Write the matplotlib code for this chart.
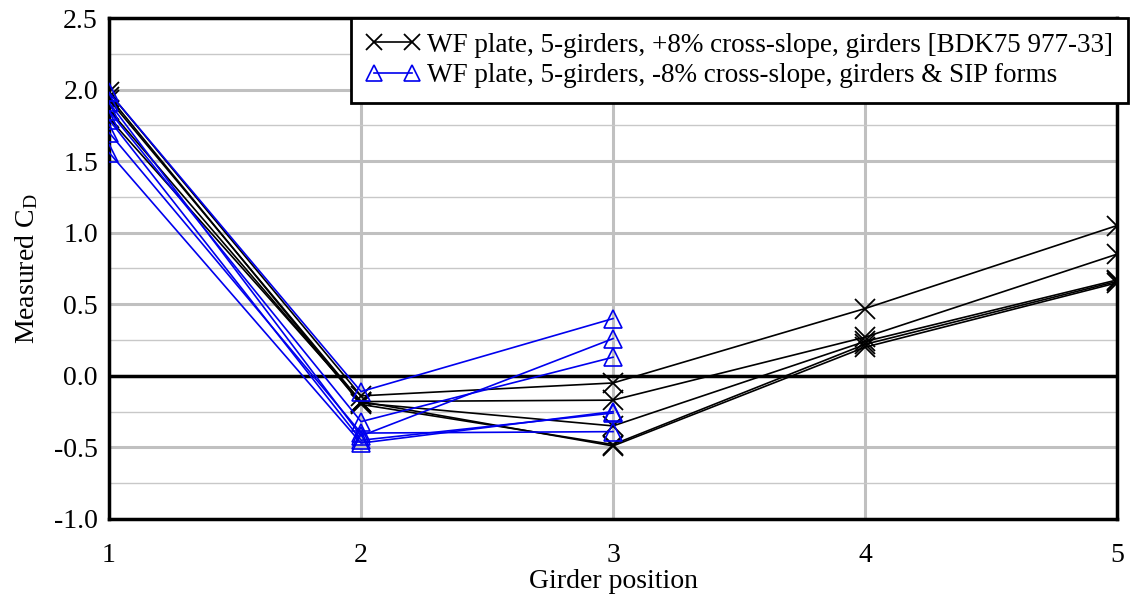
import matplotlib
matplotlib.use("Agg")
import matplotlib.pyplot as plt
from matplotlib.ticker import MultipleLocator, FormatStrFormatter

plt.rcParams.update({
    'font.family': 'Liberation Serif',
    'mathtext.fontset': 'custom',
    'mathtext.rm': 'Liberation Serif',
    'mathtext.it': 'Liberation Serif:italic',
    'axes.unicode_minus': False,
})

girders = [1, 2, 3, 4, 5]

# +8% cross-slope, girders [BDK75 977-33]
black_runs = [
    [1.98, -0.14, -0.05, 0.47, 1.05],
    [1.93, -0.18, -0.17, 0.27, 0.85],
    [1.86, -0.19, -0.35, 0.24, 0.67],
    [1.80, -0.18, -0.49, 0.20, 0.65],
    [1.95, -0.20, -0.48, 0.22, 0.66],
]

# -8% cross-slope, girders & SIP forms (positions 1-3 only)
blue_girders = [1, 2, 3]
blue_runs = [
    [1.98, -0.11, 0.40],
    [1.91, -0.42, 0.26],
    [1.85, -0.32, 0.13],
    [1.79, -0.45, -0.26],
    [1.70, -0.40, -0.39],
    [1.56, -0.47, -0.25],
]

labels = ['WF plate, 5-girders, +8% cross-slope, girders [BDK75 977-33]',
          'WF plate, 5-girders, -8% cross-slope, girders & SIP forms']

fig = plt.figure(figsize=(11.3, 6.02), dpi=100)
ax = fig.add_axes([0.0965, 0.138, 0.892, 0.832])

for i, run in enumerate(black_runs):
    ax.plot(girders, run, color='black', lw=1.2, marker='x', markersize=14,
            markeredgewidth=1.3, label=labels[0] if i == 0 else None, zorder=4)
for i, run in enumerate(blue_runs):
    ax.plot(blue_girders, run, color='#0000ee', lw=1.2, marker='^', markersize=13,
            markerfacecolor='none', markeredgewidth=1.2,
            label=labels[1] if i == 0 else None, zorder=5)

ax.axhline(0, color='black', lw=2.5, zorder=3)

ax.set_xlim(1, 5)
ax.set_ylim(-1.0, 2.5)
ax.xaxis.set_major_locator(MultipleLocator(1))
ax.yaxis.set_major_locator(MultipleLocator(0.5))
ax.yaxis.set_minor_locator(MultipleLocator(0.25))
ax.yaxis.set_major_formatter(FormatStrFormatter('%.1f'))
ax.grid(which='major', color='#c0c0c0', lw=2.2, zorder=0)
ax.grid(which='minor', axis='y', color='#c8c8c8', lw=1.0, zorder=0)
ax.set_axisbelow(True)
ax.tick_params(which='both', length=0, labelsize=20)
ax.tick_params(axis='y', pad=8)
ax.tick_params(axis='x', pad=17)

for s in ax.spines.values():
    s.set_linewidth(2.5)

ax.set_xlabel('Girder position', fontsize=20, labelpad=1)
ax.set_ylabel(r'Measured C$_{\rm D}$', fontsize=20, labelpad=10)

leg = ax.legend(loc='upper right', bbox_to_anchor=(1.011, 1.0), fontsize=19.5,
                numpoints=2, markerscale=0.85, fancybox=False, framealpha=1,
                edgecolor='black', borderpad=0.55, handlelength=2.0,
                labelspacing=0.2, handletextpad=0.25, borderaxespad=0)
leg.get_frame().set_linewidth(2.0)
leg.set_zorder(10)

fig.savefig('out.png', dpi=100)
